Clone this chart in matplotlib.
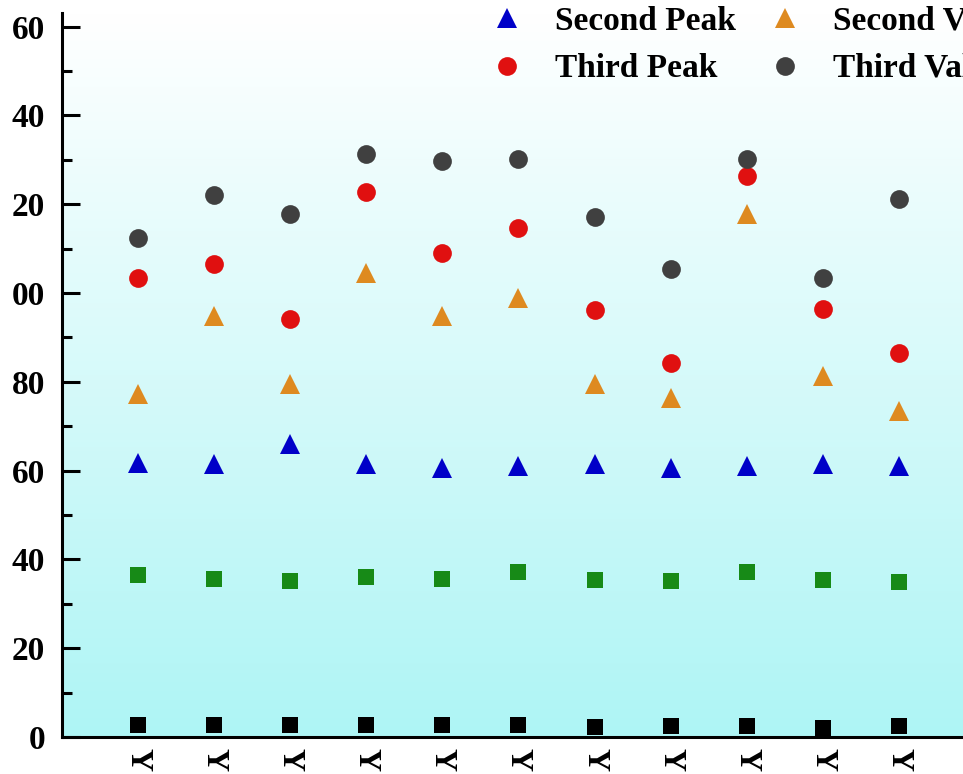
import matplotlib
matplotlib.use('Agg')
import matplotlib.pyplot as plt
import numpy as np
from matplotlib.colors import LinearSegmentedColormap

# sample positions and the visible (cropped) part of their tick labels
samples = np.arange(1, 12)
sample_labels = ['Y'] * 11
y_ticks = [0, 20, 40, 60, 80, 100, 120, 140, 160]
# the left edge of the source picture is cropped, so only these parts show
y_tick_labels = ['0', '20', '40', '60', '80', '00', '20', '40', '60']

first_peak = [2.7, 2.7, 2.8, 2.6, 2.6, 2.6, 2.3, 2.4, 2.5, 2.1, 2.4]
first_valley = [36.4, 35.5, 35.1, 36.0, 35.7, 37.1, 35.3, 35.1, 37.1, 35.3, 34.8]
second_peak = [61.8, 61.6, 66.1, 61.6, 60.7, 61.1, 61.6, 60.7, 61.1, 61.6, 61.1]
second_valley = [77.3, 94.8, 79.6, 104.5, 94.8, 98.9, 79.6, 76.4, 117.8, 81.3, 73.5]
third_peak = [103.4, 106.5, 94.2, 122.7, 109.0, 114.6, 96.2, 84.3, 126.3, 96.4, 86.5]
third_valley = [112.4, 122.0, 117.8, 131.2, 129.7, 130.1, 117.1, 105.4, 130.1, 103.4, 121.1]

plt.rcParams['font.family'] = 'Liberation Serif'
plt.rcParams['font.weight'] = 'bold'

fig = plt.figure(figsize=(9.63, 7.74), dpi=100)
ax = fig.add_axes([0.0644, 0.0478, 0.948, 0.935])

# white-to-cyan background gradient
grad = np.linspace(1, 0, 256).reshape(-1, 1)
cmap = LinearSegmentedColormap.from_list('bg', ['#aef5f5', '#ffffff'])
ax.imshow(grad, cmap=cmap, aspect='auto', extent=[0, 12, 0, 163], zorder=0)

series = [
    (first_peak, 's', '#000000', 12, 'First Peak'),
    (second_peak, '^', '#0000c8', 15, 'Second Peak'),
    (third_peak, 'o', '#e01010', 13.5, 'Third Peak'),
    (first_valley, 's', '#178a17', 12, 'First Valley'),
    (second_valley, '^', '#de8a20', 15, 'Second Valley'),
    (third_valley, 'o', '#404040', 13.5, 'Third Valley'),
]
for vals, mk, col, ms, lab in series:
    ax.plot(samples, vals, linestyle='none', marker=mk, color=col,
            markersize=ms, markeredgewidth=0, label=lab, zorder=3)

ax.set_xlim(0, 12)
ax.set_ylim(0, 163)
ax.set_yticks(y_ticks)
ax.set_yticklabels(y_tick_labels)
ax.set_yticks(np.arange(10, 161, 20), minor=True)
ax.set_xticks(samples)
ax.set_xticklabels(sample_labels, rotation=270, fontsize=23, fontweight='bold')

for s in ['top', 'right']:
    ax.spines[s].set_visible(False)
for s in ['left', 'bottom']:
    ax.spines[s].set_linewidth(2.2)

ax.tick_params(axis='y', which='major', direction='in', length=13, width=2.2,
               labelsize=24, pad=12)
ax.tick_params(axis='y', which='minor', direction='in', length=7.5, width=2.2)
ax.tick_params(axis='x', length=0, pad=8)

ax.legend(loc='upper left', bbox_to_anchor=(0.5093, 1.0544), bbox_transform=fig.transFigure,
          ncol=2, frameon=False, fontsize=24, borderpad=0, borderaxespad=0,
          handlelength=1.0, handletextpad=0.95, columnspacing=0.95,
          labelspacing=0.5, numpoints=1)

fig.savefig('out.png', dpi=100)
